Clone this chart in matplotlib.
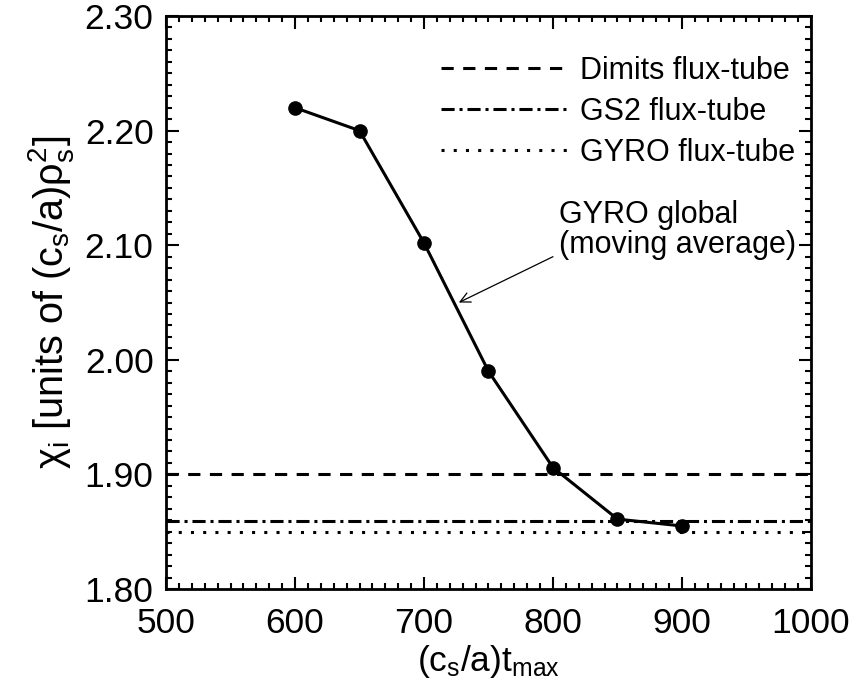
import matplotlib
matplotlib.use("Agg")
import matplotlib.pyplot as plt
from matplotlib.ticker import MultipleLocator

plt.rcParams['font.family'] = ['Liberation Sans', 'DejaVu Sans']
plt.rcParams['mathtext.fontset'] = 'custom'
plt.rcParams['mathtext.rm'] = 'Liberation Sans'
plt.rcParams['mathtext.it'] = 'Liberation Sans'
plt.rcParams['mathtext.default'] = 'regular'

# Data
t_max = [600, 650, 700, 750, 800, 850, 900]
chi_global = [2.220, 2.200, 2.102, 1.990, 1.906, 1.861, 1.855]
dimits = 1.900
gs2 = 1.859
gyro_ft = 1.850
legend_labels = ["Dimits flux-tube", "GS2 flux-tube", "GYRO flux-tube"]
x_ticks = [500, 600, 700, 800, 900, 1000]
y_ticks = [1.80, 1.90, 2.00, 2.10, 2.20, 2.30]
note_text = "GYRO global\n(moving average)"

fig = plt.figure(figsize=(8.62, 6.91), dpi=100)
ax = fig.add_axes([0.1926, 0.1476, 0.7482, 0.8292])

lw = 2.2
h1, = ax.plot([500, 1000], [dimits, dimits], color='black', lw=lw, dashes=(4, 3.1))
h2, = ax.plot([500, 1000], [gs2, gs2], color='black', lw=lw, dashes=(4.3, 1.6, 1, 1.6))
h3, = ax.plot([500, 1000], [gyro_ft, gyro_ft], color='black', lw=lw, dashes=(1, 3))
ax.plot(t_max, chi_global, color='black', lw=lw, marker='o', markersize=9.5, zorder=5)

ax.set_xlim(500, 1000)
ax.set_ylim(1.80, 2.30)
ax.set_xticks(x_ticks)
ax.set_yticks(y_ticks)
ax.set_yticklabels([f"{v:.2f}" for v in y_ticks])
ax.xaxis.set_minor_locator(MultipleLocator(10))
ax.yaxis.set_minor_locator(MultipleLocator(0.01))
ax.tick_params(which='both', direction='in', top=True, right=True, width=1.5, color='black')
ax.tick_params(which='major', length=9, labelsize=25.5)
ax.tick_params(axis='x', which='major', pad=13)
ax.tick_params(axis='y', which='major', pad=9)
ax.tick_params(which='minor', length=4.5)
for s in ax.spines.values():
    s.set_linewidth(2)

ax.set_xlabel(r"(c$_s$/a)t$_{max}$", fontsize=25.5, labelpad=2)
ax.set_ylabel(r"χ$_i$ [units of (c$_s$/a)ρ$_s^2$]", fontsize=28.5, labelpad=6)

leg = ax.legend([h1, h2, h3], legend_labels, loc='upper right',
                bbox_to_anchor=(0.976, 0.931), frameon=False, fontsize=22,
                handlelength=4.2, handletextpad=0.36, labelspacing=0.36,
                borderpad=0, borderaxespad=0)

ax.text(805, 2.113, note_text, fontsize=22, ha='left', va='center', linespacing=1.0)
ax.annotate("", xy=(727, 2.050), xytext=(800, 2.090),
            arrowprops=dict(arrowstyle='->', color='black', lw=0.9,
                            shrinkA=0, shrinkB=0, mutation_scale=18))

fig.savefig("out.png", dpi=100)
